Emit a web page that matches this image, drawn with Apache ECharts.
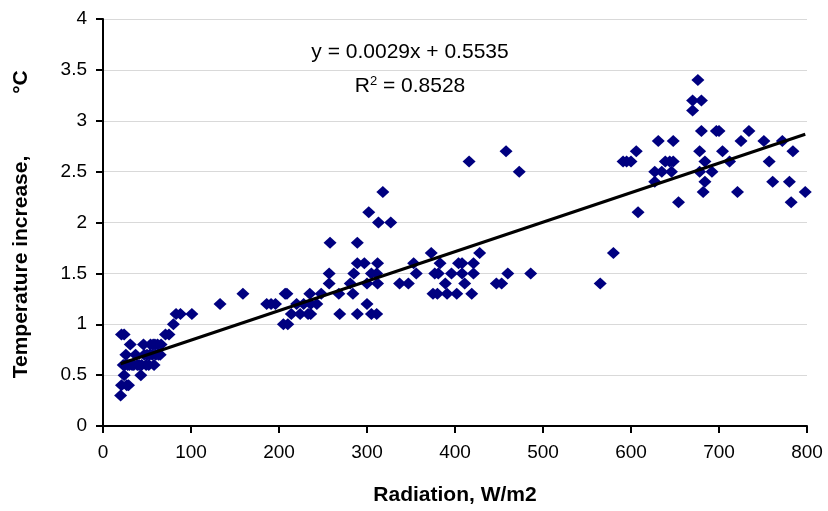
<!DOCTYPE html>
<html>
<head>
<meta charset="utf-8">
<script src="https://cdn.jsdelivr.net/npm/echarts@6/dist/echarts.min.js"></script>
<style>html,body{margin:0;padding:0;background:#fff}#c{width:828px;height:511px}</style>
</head>
<body>
<div id="c"></div>
<script>
// Measured points: [radiation W/m2, temperature increase °C]
const lowPoints = [[20,0.3],[21,0.4],[27,0.4],[29,0.4],[24,0.5],[21,0.9],[24,0.9],[23,0.6],[26,0.7],[25,0.6],[28,0.6],[31,0.8],[30,0.6],[33,0.6],[35,0.6],[37,0.7],[39,0.6],[41,0.6],[43,0.5],[44,0.6],[46,0.8],[47,0.7],[49,0.6],[50,0.7],[52,0.6],[53,0.7],[54,0.8],[56,0.7],[57,0.8],[58,0.6],[59,0.8],[60,0.7],[62,0.8],[63,0.7],[65,0.7],[66,0.8],[71,0.9],[75,0.9],[80,1.0],[83,1.1],[88,1.1],[101,1.1]];
const midPoints = [[133,1.2],[159,1.3],[186,1.2],[191,1.2],[196,1.2],[207,1.3],[209,1.3],[205,1.0],[210,1.0],[214,1.1],[220,1.2],[224,1.1],[228,1.2],[233,1.1],[236,1.1],[235,1.3],[236,1.2],[243,1.2],[248,1.3],[257,1.5],[257,1.4],[258,1.8],[268,1.3],[269,1.1],[281,1.4],[284,1.3],[285,1.5],[289,1.8],[289,1.6],[297,1.6],[289,1.1],[300,1.4],[300,1.2],[302,2.1],[305,1.5],[305,1.1],[311,1.1],[311,1.5],[312,1.6],[312,1.4],[313,2.0],[318,2.3],[327,2.0]];
const upperMidPoints = [[337,1.4],[347,1.4],[353,1.6],[356,1.5],[373,1.7],[377,1.5],[381,1.5],[383,1.6],[375,1.3],[380,1.3],[389,1.4],[391,1.3],[396,1.5],[402,1.3],[404,1.6],[408,1.6],[408,1.5],[411,1.4],[419,1.3],[421,1.6],[421,1.5],[428,1.7],[416,2.6],[447,1.4],[453,1.4],[458,2.7],[460,1.5],[473,2.5],[486,1.5]];
const highPoints = [[565,1.4],[580,1.7],[591,2.6],[595,2.6],[600,2.6],[606,2.7],[608,2.1],[627,2.4],[627,2.5],[635,2.5],[631,2.8],[639,2.6],[644,2.6],[648,2.6],[646,2.5],[648,2.8],[654,2.2],[670,3.1],[670,3.2],[680,3.2],[676,3.4],[680,2.9],[678,2.7],[684,2.6],[678,2.5],[684,2.4],[682,2.3],[692,2.5],[697,2.9],[700,2.9],[704,2.7],[712,2.6],[721,2.3],[725,2.8],[734,2.9],[751,2.8],[757,2.6],[761,2.4],[772,2.8],[784,2.7],[780,2.4],[782,2.2],[798,2.3]];

// Linear trendline from the chart's equation
const trendSlope = 0.0029;
const trendIntercept = 0.5535;
const equationText = 'y = 0.0029x + 0.5535';
const r2Value = '0.8528';

const allPoints = lowPoints.concat(midPoints, upperMidPoints, highPoints);
const xs = allPoints.map(p => p[0]);
const xMin = Math.min(...xs), xMax = Math.max(...xs);
const trendData = [[xMin, trendSlope*xMin + trendIntercept], [xMax, trendSlope*xMax + trendIntercept]];

const chart = echarts.init(document.getElementById('c'), null, {renderer:'canvas'});
const FONT = 'Liberation Sans, Arial, sans-serif';
chart.setOption({
  animation: false,
  backgroundColor: '#fff',
  grid: {left: 103, right: 21, top: 19, bottom: 85, containLabel: false},
  xAxis: {
    type: 'value', min: 0, max: 800, interval: 100,
    axisLine: {show: true, onZero: false, lineStyle: {color: '#000', width: 2}},
    axisTick: {show: true, inside: false, length: 7, lineStyle: {color: '#000', width: 2}},
    axisLabel: {color: '#000', fontSize: 19, fontFamily: FONT, margin: 17},
    splitLine: {show: false}
  },
  yAxis: {
    type: 'value', min: 0, max: 4, interval: 0.5,
    axisLine: {show: true, onZero: false, lineStyle: {color: '#000', width: 2}},
    axisTick: {show: true, inside: false, length: 7, lineStyle: {color: '#000', width: 2}},
    axisLabel: {color: '#000', fontSize: 19, fontFamily: FONT, margin: 16},
    splitLine: {show: true, lineStyle: {color: '#d9d9d9', width: 1}}
  },
  graphic: [
    {type: 'text', style: {text: equationText, x: 410, y: 52, fill: '#000', fontSize: 21, fontFamily: FONT, align: 'center', verticalAlign: 'middle'}},
    {type: 'text', style: {text: 'R{sup|2} = ' + r2Value, x: 410, y: 86, fill: '#000', fontSize: 21, fontFamily: FONT, align: 'center', verticalAlign: 'middle',
      rich: {sup: {fontSize: 13, fontFamily: FONT, fill: '#000', verticalAlign: 'top', padding: [0,0,10,0]}}}},
    {type: 'text', style: {text: 'Radiation, W/m2', x: 455, y: 495, fill: '#000', fontSize: 21, fontWeight: 'bold', fontFamily: FONT, align: 'center', verticalAlign: 'middle'}},
    {type: 'text', x: 21, y: 267, rotation: Math.PI/2, style: {text: 'Temperature increase,', x: 0, y: 0, fill: '#000', fontSize: 21, fontWeight: 'bold', fontFamily: FONT, align: 'center', verticalAlign: 'middle'}},
    {type: 'text', x: 21, y: 82, rotation: Math.PI/2, style: {text: '°C', x: 0, y: 0, fill: '#000', fontSize: 21, fontWeight: 'bold', fontFamily: FONT, align: 'center', verticalAlign: 'middle'}}
  ],
  series: [
    {type: 'scatter', data: allPoints, symbol: 'diamond', symbolSize: [13, 12], itemStyle: {color: '#000080', opacity: 1}, z: 3},
    {type: 'line', data: trendData, symbol: 'none', lineStyle: {color: '#000', width: 3}, z: 4}
  ]
});
</script>
</body>
</html>
